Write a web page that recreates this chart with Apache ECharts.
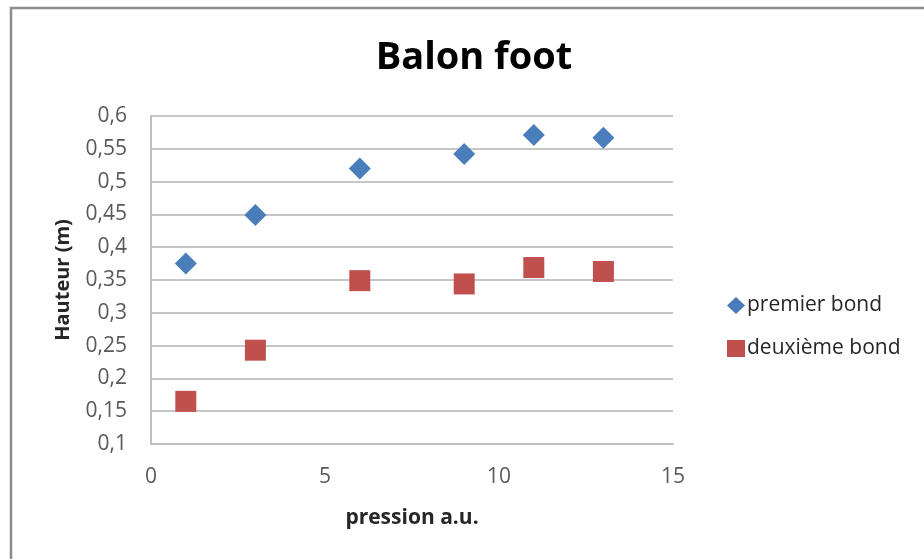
<!DOCTYPE html>
<html>
<head>
<meta charset="utf-8">
<style>
  html, body { margin: 0; padding: 0; background: #fff; }
  #chart { width: 924px; height: 559px; }
</style>
<script src="https://cdn.jsdelivr.net/npm/echarts@6/dist/echarts.min.js"></script>
</head>
<body>
<div id="chart"></div>
<script>
// Pressure (a.u.) at which each ball was dropped
const pression = [1, 3, 6, 9, 11, 13];
// Rebound heights in metres
const premierBond = [0.375, 0.449, 0.520, 0.542, 0.571, 0.567];
const deuxiemeBond = [0.165, 0.243, 0.349, 0.344, 0.369, 0.363];
const seriesNames = ['premier bond', 'deuxième bond'];
const xTicks = [0, 5, 10, 15];

const FONT = '"Open Sans", "DejaVu Sans", sans-serif';

function frNumber(v) {
  return String(Math.round(v * 1000) / 1000).replace('.', ',');
}

const chart = echarts.init(document.getElementById('chart'), null, { renderer: 'canvas' });

chart.setOption({
  backgroundColor: '#ffffff',
  animation: false,
  title: {
    text: 'Balon foot',
    left: 469,
    textAlign: 'center',
    top: 34,
    textStyle: { fontFamily: FONT, fontSize: 38, fontWeight: 'bold', color: '#000' }
  },
  graphic: [{
    type: 'rect',
    shape: { x: 11, y: 8, width: 940, height: 580 },
    style: { fill: 'none', stroke: '#8c8c8c', lineWidth: 2.5 },
    silent: true
  }],
  legend: {
    orient: 'vertical',
    left: 722,
    top: 290,
    itemWidth: 18,
    itemHeight: 17,
    itemGap: 22,
    textStyle: { fontFamily: FONT, fontSize: 21, color: '#262626', padding: [0, 0, 0, -3] },
    data: [
      { name: seriesNames[0], icon: 'diamond' },
      { name: seriesNames[1], icon: 'rect' }
    ]
  },
  grid: { left: 151, top: 116, width: 522, height: 328, containLabel: false },
  xAxis: {
    type: 'value',
    min: xTicks[0],
    max: xTicks[xTicks.length - 1],
    interval: xTicks[1] - xTicks[0],
    name: 'pression a.u.',
    nameLocation: 'middle',
    nameGap: 64,
    nameTextStyle: { fontFamily: FONT, fontSize: 21, fontWeight: 'bold', color: '#262626' },
    axisLine: { show: true, lineStyle: { color: '#bfbfbf', width: 2 } },
    axisTick: { show: false },
    splitLine: { show: false },
    axisLabel: {
      fontFamily: FONT, fontSize: 21, color: '#595959', margin: 23,
      formatter: v => frNumber(v)
    }
  },
  yAxis: {
    type: 'value',
    min: 0.1,
    max: 0.6,
    interval: 0.05,
    name: 'Hauteur (m)',
    nameLocation: 'middle',
    nameGap: 78,
    nameRotate: 90,
    nameTextStyle: { fontFamily: FONT, fontSize: 20, fontWeight: 'bold', color: '#262626' },
    axisLine: { show: true, lineStyle: { color: '#bfbfbf', width: 2 } },
    axisTick: { show: false },
    splitLine: { show: true, lineStyle: { color: '#c6c6c6', width: 2 } },
    axisLabel: {
      fontFamily: FONT, fontSize: 21, color: '#595959', margin: 24,
      formatter: v => frNumber(v)
    }
  },
  series: [
    {
      name: seriesNames[0],
      type: 'scatter',
      symbol: 'diamond',
      symbolSize: [22, 22],
      itemStyle: { color: '#4a7ebb', opacity: 1 },
      data: pression.map((x, i) => [x, premierBond[i]])
    },
    {
      name: seriesNames[1],
      type: 'scatter',
      symbol: 'rect',
      symbolSize: [21, 21],
      itemStyle: { color: '#c0504d', opacity: 1 },
      data: pression.map((x, i) => [x, deuxiemeBond[i]])
    }
  ]
});
</script>
</body>
</html>
